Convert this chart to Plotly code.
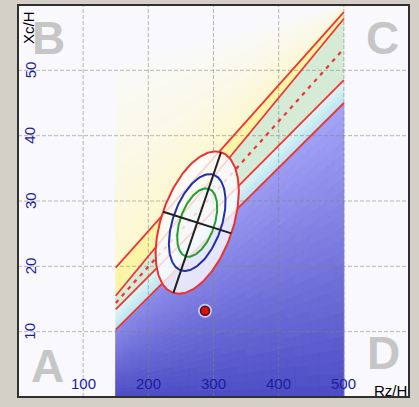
import numpy as np
import plotly.graph_objects as go

# ---------------- data ----------------
x_ticks = [100, 200, 300, 400, 500]
y_ticks = [10, 20, 30, 40, 50]
x_tick_labels = ["100", "200", "300", "400", "500"]
y_tick_labels = ["10", "20", "30", "40", "50"]

band_x = [150, 500]            # R/H span of the reference bands
line1 = [19.8, 58.9]           # Xc/H at band_x ends
line2 = [15.5, 57.9]
line_mid = [14.4, 53.3]
line3 = [13.4, 48.5]
line4 = [10.3, 45.0]
fade_top = [50.0, 60.0]

ellipse_center = [275.0, 26.7]
ellipse_major = [36.5, 10.76]  # 95% semi-axis vector
ellipse_minor = [52.4, -1.66]
ellipse_levels = [0.95, 0.75, 0.50]

subject_x = [287]
subject_y = [13.2]

corner_letters = ["A", "B", "C", "D"]
corner_x = [45.6, 46.4, 559.8, 561.3]
corner_y = [4.8, 55.0, 54.9, 6.7]

# ---------------- helpers ----------------
def lin(v, x):
    return v[0] + (v[1] - v[0]) * (x - band_x[0]) / (band_x[1] - band_x[0])

def mix(c1, c2, t):
    return tuple(int(round(a + (b - a) * t)) for a, b in zip(c1, c2))

def rgb(c):
    return "rgb(%d,%d,%d)" % c

fig = go.Figure()

def poly(xs, ys, color, lw=0.6):
    fig.add_trace(go.Scatter(x=xs, y=ys, mode="lines", fill="toself",
                             fillcolor=color, line=dict(color=color, width=lw),
                             hoverinfo="skip", showlegend=False))

def strip(fa, fb, color):
    x0, x1 = band_x
    poly([x0, x1, x1, x0, x0], [fa(x0), fa(x1), fb(x1), fb(x0), fa(x0)], color)

# pale yellow fade above line1
N = 16
near_y = (253, 248, 204)
far_y = (249, 249, 248)
for k in range(N):
    t0, t1 = k / N, (k + 1) / N
    fa = lambda x, t=t0: lin(line1, x) + t * (lin(fade_top, x) - lin(line1, x))
    fb = lambda x, t=t1: lin(line1, x) + t * (lin(fade_top, x) - lin(line1, x))
    strip(fa, fb, rgb(mix(near_y, far_y, ((k + 0.5) / N) ** 0.8)))

# yellow band
strip(lambda x: lin(line1, x), lambda x: lin(line2, x), rgb((252, 245, 168)))
# green band
strip(lambda x: lin(line2, x), lambda x: lin(line3, x), rgb((214, 235, 214)))
# cyan band gradient
Nc = 8
c_top, c_bot = (224, 245, 246), (184, 228, 242)
for k in range(Nc):
    t0, t1 = k / Nc, (k + 1) / Nc
    fa = lambda x, t=t0: lin(line3, x) + t * (lin(line4, x) - lin(line3, x))
    fb = lambda x, t=t1: lin(line3, x) + t * (lin(line4, x) - lin(line3, x))
    strip(fa, fb, rgb(mix(c_top, c_bot, (k + 0.5) / Nc)))

# blue region gradient (quads grouped by colour level)
M, R, L = 28, 24, 40
dark, light = (76, 76, 196), (164, 164, 248)
xs_col = np.linspace(band_x[0], band_x[1], M + 1)
groups = {}
for i in range(M):
    xa, xb = xs_col[i], xs_col[i + 1]
    for j in range(R):
        ta, tb = j / R, (j + 1) / R
        ya0, ya1 = lin(line4, xa) * (1 - ta), lin(line4, xa) * (1 - tb)
        yb0, yb1 = lin(line4, xb) * (1 - ta), lin(line4, xb) * (1 - tb)
        xc = 0.5 * (xa + xb)
        frac = 1 - (ta + tb) / 2
        yc = lin(line4, xc) * frac
        s = 0.6 * frac + 0.4 * (yc / 45.0)
        lvl = min(L - 1, int(s * L))
        g = groups.setdefault(lvl, ([], []))
        g[0].extend([xa, xb, xb, xa, xa, None])
        g[1].extend([ya0, yb0, yb1, ya1, ya0, None])
for lvl, (gx, gy) in sorted(groups.items()):
    c = rgb(mix(dark, light, (lvl + 0.5) / L))
    poly(gx, gy, c, lw=1.0)

# grid lines
gx, gy = [], []
for v in x_ticks:
    gx += [v, v, None]
    gy += [0, 60, None]
for v in y_ticks:
    gx += [0, 600, None]
    gy += [v, v, None]
fig.add_trace(go.Scatter(x=gx, y=gy, mode="lines",
                         line=dict(color="rgba(130,130,130,0.55)", width=1, dash="4px,2px"),
                         hoverinfo="skip", showlegend=False))

# band lines
red = "#f03434"
for ln in (line1, line2, line3, line4):
    fig.add_trace(go.Scatter(x=band_x, y=ln, mode="lines", line=dict(color=red, width=1.8),
                             hoverinfo="skip", showlegend=False))
fig.add_trace(go.Scatter(x=band_x, y=line_mid, mode="lines",
                         line=dict(color=red, width=2.2, dash="4px,5px"),
                         hoverinfo="skip", showlegend=False))

# ellipses
def kfac(p):
    return np.sqrt(-2 * np.log(1 - p))

tt = np.linspace(0, 2 * np.pi, 181)
cx, cy = ellipse_center
ell_colors = ["#f03030", "#2030a8", "#20a030"]
for idx, (p, col) in enumerate(zip(ellipse_levels, ell_colors)):
    sc = kfac(p) / kfac(0.95)
    ex = cx + sc * (ellipse_major[0] * np.cos(tt) + ellipse_minor[0] * np.sin(tt))
    ey = cy + sc * (ellipse_major[1] * np.cos(tt) + ellipse_minor[1] * np.sin(tt))
    if idx == 0:
        fig.add_trace(go.Scatter(x=ex, y=ey, mode="lines", fill="toself",
                                 fillcolor="rgba(252,252,255,0.80)",
                                 line=dict(color="rgba(0,0,0,0)", width=0),
                                 hoverinfo="skip", showlegend=False))
        axes_x = [cx + ellipse_major[0], cx - ellipse_major[0], None,
                  cx - ellipse_minor[0], cx + ellipse_minor[0]]
        axes_y = [cy + ellipse_major[1], cy - ellipse_major[1], None,
                  cy - ellipse_minor[1], cy + ellipse_minor[1]]
    fig.add_trace(go.Scatter(x=ex, y=ey, mode="lines", line=dict(color=col, width=2),
                             hoverinfo="skip", showlegend=False))

fig.add_trace(go.Scatter(x=axes_x, y=axes_y, mode="lines",
                         line=dict(color="#202020", width=2),
                         hoverinfo="skip", showlegend=False))

# subject point
fig.add_trace(go.Scatter(x=subject_x, y=subject_y, mode="markers",
                         marker=dict(size=14, color="rgba(255,255,255,0.6)"),
                         hoverinfo="skip", showlegend=False))
fig.add_trace(go.Scatter(x=subject_x, y=subject_y, mode="markers",
                         marker=dict(size=9, color="#d81010", line=dict(color="#501010", width=1.5)),
                         hoverinfo="skip", showlegend=False))

# ---------------- annotations ----------------
ann = []
tick_font = dict(family="Liberation Sans, Arial, sans-serif", size=15, color="#1c1ca0")
for v, t in zip(x_ticks, x_tick_labels):
    ann.append(dict(x=v, y=0, xref="x", yref="y", text=t, showarrow=False,
                    font=tick_font, xanchor="center", yanchor="middle", yshift=14))
for v, t in zip(y_ticks, y_tick_labels):
    ann.append(dict(x=0, y=v, xref="x", yref="y", text=t, showarrow=False,
                    font=tick_font, xanchor="center", yanchor="middle", xshift=12,
                    textangle=-90))
lab_font = dict(family="Liberation Sans, Arial, sans-serif", size=15, color="#000000")
ann.append(dict(x=0, y=60, xref="x", yref="y", text="Xc/H", showarrow=False, font=lab_font,
                xanchor="center", yanchor="middle", xshift=10, yshift=-23, textangle=-90))
ann.append(dict(x=600, y=0, xref="x", yref="y", text="Rz/H", showarrow=False, font=lab_font,
                xanchor="center", yanchor="middle", xshift=-19, yshift=7))
let_font = dict(family="Liberation Sans, Arial, sans-serif", size=46, color="#c6c6c6",
                weight="bold")
for t, x, y in zip(corner_letters, corner_x, corner_y):
    ann.append(dict(x=x, y=y, xref="x", yref="y", text=t, showarrow=False, font=let_font,
                    xanchor="center", yanchor="middle"))

fig.update_layout(
    width=419, height=407,
    margin=dict(l=18, r=10, t=5, b=10, pad=0),
    paper_bgcolor="#d4d0c8",
    plot_bgcolor="#f8f8fd",
    showlegend=False,
    annotations=ann,
    xaxis=dict(range=[0, 600], showgrid=False, zeroline=False, showticklabels=False,
               ticks="", fixedrange=True),
    yaxis=dict(range=[0, 60], showgrid=False, zeroline=False, showticklabels=False,
               ticks="", fixedrange=True),
    shapes=[dict(type="rect", xref="paper", yref="paper", x0=0, x1=1, y0=0, y1=1,
                 line=dict(color="#303030", width=2), layer="above")],
)

fig.write_html("out.html", config={"displayModeBar": False},
               post_script="document.body.style.margin='0';document.body.style.overflow='hidden';")
